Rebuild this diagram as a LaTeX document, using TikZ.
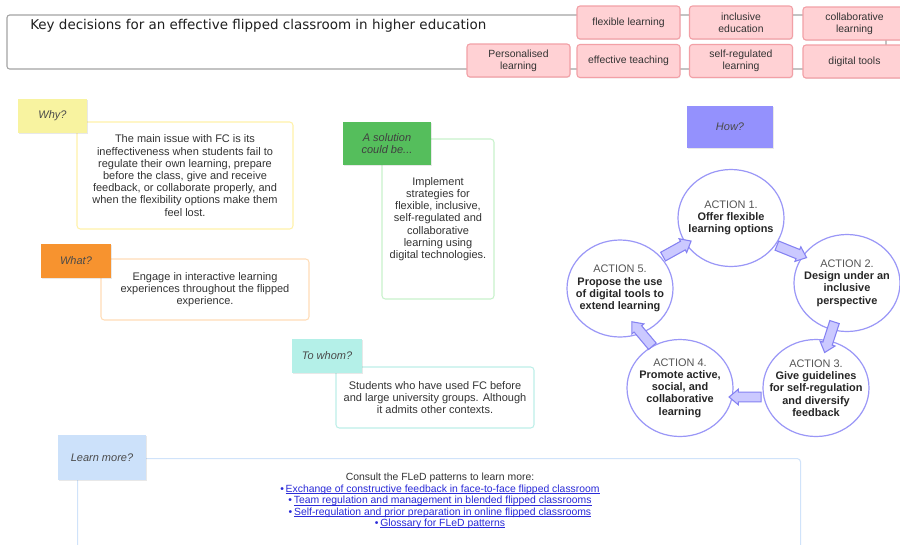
\documentclass[tikz,border=0pt]{standalone}
\usepackage{fontspec}
\setmainfont{Liberation Sans}
\newfontfamily\titlefont{DejaVu Sans}
\usetikzlibrary{shapes.geometric,shapes.arrows,calc,shadows}
\definecolor{titledraw}{HTML}{A3A3A3}
\definecolor{tagfill}{HTML}{FFD1D4}
\definecolor{tagdraw}{HTML}{F2A0A6}
\definecolor{txt}{HTML}{333333}
\definecolor{lbltxt}{HTML}{4A4A4A}
\definecolor{whyfill}{HTML}{F8F3A0}
\definecolor{whydraw}{HTML}{FFF2AA}
\definecolor{whatfill}{HTML}{F7932F}
\definecolor{whatdraw}{HTML}{FFDDB8}
\definecolor{solfill}{HTML}{55BE5C}
\definecolor{soldraw}{HTML}{C8F2CC}
\definecolor{whomfill}{HTML}{B4F0E8}
\definecolor{whomdraw}{HTML}{BDEFE8}
\definecolor{howfill}{HTML}{9491FD}
\definecolor{learnfill}{HTML}{CCE1FA}
\definecolor{learndraw}{HTML}{D0E3FA}
\definecolor{circdraw}{HTML}{9A97F7}
\definecolor{arrfill}{HTML}{CBC9FF}
\definecolor{arrdraw}{HTML}{8582F2}
\definecolor{actgray}{HTML}{555555}
\definecolor{linkblue}{HTML}{2A2AD8}
\newcommand\bodyfs{\fontsize{8.25pt}{9.15pt}\selectfont}
\newcommand\tagfs{\fontsize{7.8pt}{9pt}\selectfont}
\newcommand\circfs{\fontsize{8.2pt}{9.2pt}\selectfont}
\newcommand\linkfs{\fontsize{7.8pt}{8.55pt}\selectfont}
\newcommand\myul[1]{\setbox0\hbox{#1}\rlap{\rule[-1.1pt]{\wd0}{0.45pt}}\box0}
\newcommand\lnk[1]{{\color{linkblue}\textbullet\,\myul{#1}}}
\tikzset{
  titlebox/.style={draw=titledraw, line width=0.8pt, rounded corners=2pt, fill=white, inner sep=0pt},
  tagbox/.style={draw=tagdraw, fill=tagfill, line width=0.8pt, rounded corners=2.2pt,
    minimum width=103*0.75pt, minimum height=33*0.75pt, inner sep=0pt, align=center,
    font=\tagfs, text=txt, drop shadow={shadow xshift=0.5pt, shadow yshift=-0.7pt, opacity=0.15}},
  textbox/.style={line width=0.8pt, rounded corners=2.5pt, fill=white, inner sep=0pt,
    align=center, font=\bodyfs, text=txt},
  lbl/.style={inner sep=0pt, align=center, font=\bodyfs\itshape, text=lbltxt,
    drop shadow={shadow xshift=0.5pt, shadow yshift=-0.8pt, opacity=0.18}},
  actcirc/.style={ellipse, draw=circdraw, line width=0.9pt, fill=white, inner sep=0pt,
    minimum width=106*0.75pt, minimum height=97*0.75pt},
  acttext/.style={inner sep=0pt, align=center, font=\circfs, text=black!85},
  blockarr/.style={single arrow, draw=arrdraw, fill=arrfill, line width=0.8pt, inner xsep=0pt,
    inner ysep=3.3pt, minimum height=32*0.75pt, single arrow head extend=2.2pt,
    single arrow tip angle=80}
}
\begin{document}
\begin{tikzpicture}[x=0.75pt,y=-0.75pt]
\clip (0,0) rectangle (900,544);
\fill[white] (0,0) rectangle (900,544);

% title
\node[titlebox, minimum width=879*0.75pt, minimum height=54*0.75pt] (tbox) at (446.5,42) {};
\node[anchor=west, inner sep=0pt, font=\titlefont\fontsize{10.1pt}{12pt}\selectfont, text=black!88] (title) at (30,26)
  {Key decisions for an effective flipped classroom in higher education};

% tags
\node[tagbox] (flex) at (628.5,22.5) {flexible learning};
\node[tagbox] (incl) at (741,22.5) {inclusive\\education};
\node[tagbox] (coll) at (854.5,23.5) {collaborative\\learning};
\node[tagbox] (pers) at (518.5,60.5) {Personalised\\learning};
\node[tagbox] (efft) at (628.5,61) {effective teaching};
\node[tagbox] (selfr) at (741,61) {self-regulated\\learning};
\node[tagbox] (digt) at (854.5,61.5) {digital tools};

% text boxes
\node[textbox, draw=whydraw, minimum width=216*0.75pt, minimum height=107*0.75pt] (whyb) at (185,175.5)
  {The main issue with FC is its\\ineffectiveness when students fail to\\regulate their own learning, prepare\\before the class, give and receive\\feedback, or collaborate properly, and\\when the flexibility options make them\\feel lost.};
\node[textbox, draw=whatdraw, minimum width=208*0.75pt, minimum height=61*0.75pt] (whatb) at (205,289.5)
  {Engage in interactive learning\\experiences throughout the flipped\\experience.};
\node[textbox, draw=soldraw, minimum width=112*0.75pt, minimum height=160*0.75pt] (solb) at (438,219)
  {Implement\\strategies for\\flexible, inclusive,\\self-regulated and\\collaborative\\learning using\\digital technologies.};
\node[textbox, draw=whomdraw, minimum width=198*0.75pt, minimum height=61*0.75pt] (whomb) at (435,397.5)
  {Students who have used FC before\\and large university groups. Although\\it admits other contexts.};
\node[textbox, draw=learndraw, anchor=north west, minimum width=723*0.75pt, minimum height=140*0.75pt] (learnb) at (77,458) {};
\node[inner sep=0pt, align=center, font=\linkfs, text=txt] (links) at (440,501)
  {Consult the FLeD patterns to learn more:\\
   \lnk{Exchange of constructive feedback in face-to-face flipped classroom}\\
   \lnk{Team regulation and management in blended flipped classrooms}\\
   \lnk{Self-regulation and prior preparation in online flipped classrooms}\\
   \lnk{Glossary for FLeD patterns}};

% labels
\node[lbl, fill=whyfill, minimum width=69*0.75pt, minimum height=34*0.75pt] (whyl) at (52.5,116) {Why?};
\node[lbl, fill=whatfill, minimum width=70*0.75pt, minimum height=34*0.75pt] (whatl) at (76,261) {What?};
\node[lbl, fill=solfill, minimum width=88*0.75pt, minimum height=43*0.75pt, text=black!75] (soll) at (387,143.5) {A solution\\could be...};
\node[lbl, fill=whomfill, minimum width=70*0.75pt, minimum height=34*0.75pt] (whoml) at (327,356) {To whom?};
\node[lbl, fill=howfill, minimum width=86*0.75pt, minimum height=42*0.75pt] (howl) at (730,127) {How?};
\node[lbl, fill=learnfill, minimum width=88*0.75pt, minimum height=45*0.75pt] (learnl) at (102,457.5) {Learn more?};

% action circles
\node[actcirc, label={[acttext]center:{{\color{actgray}ACTION 1.}\\\textbf{Offer flexible}\\\textbf{learning options}}}] (c1) at (731,218) {};
\node[actcirc, label={[acttext]center:{{\color{actgray}ACTION 2.}\\\textbf{Design under an}\\\textbf{inclusive}\\\textbf{perspective}}}] (c2) at (847,283) {};
\node[actcirc, label={[acttext]center:{{\color{actgray}ACTION 3.}\\\textbf{Give guidelines}\\\textbf{for self-regulation}\\\textbf{and diversify}\\\textbf{feedback}}}] (c3) at (816,388) {};
\node[actcirc, label={[acttext]center:{{\color{actgray}ACTION 4.}\\\textbf{Promote active,}\\\textbf{social, and}\\\textbf{collaborative}\\\textbf{learning}}}] (c4) at (680,388) {};
\node[actcirc, label={[acttext]center:{{\color{actgray}ACTION 5.}\\\textbf{Propose the use}\\\textbf{of digital tools to}\\\textbf{extend learning}}}] (c5) at (620,288.5) {};

% block arrows between actions
\node[blockarr, rotate=-22] (a12) at ($(c1)!0.5!(c2)$) {};
\node[blockarr, rotate=-108] (a23) at ($(c2)!0.5!(c3)+(-1,-1)$) {};
\node[blockarr, rotate=180] (a34) at ($(c3)!0.5!(c4)+(0,9)$) {};
\node[blockarr, rotate=130] (a45) at ($(c4)!0.5!(c5)+(-6,-2)$) {};
\node[blockarr, rotate=29] (a51) at ($(c5)!0.5!(c1)+(-1,-3)$) {};
\end{tikzpicture}
\end{document}
